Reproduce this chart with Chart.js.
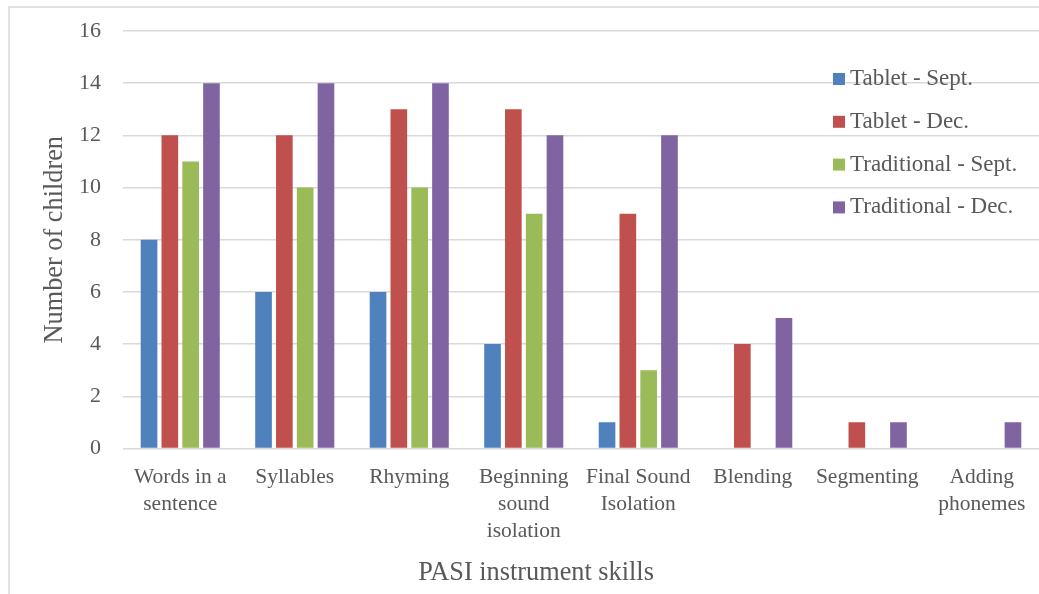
<!DOCTYPE html>
<html>
<head>
<meta charset="utf-8">
<script src="https://cdn.jsdelivr.net/npm/chart.js@4/dist/chart.umd.min.js"></script>
<style>
    html, body { margin: 0; padding: 0; background: #fff; overflow: hidden; }
    #wrap { position: relative; width: 1039px; height: 594px; }
</style>
</head>
<body>
<div id="wrap"><canvas id="chart" width="1039" height="594"></canvas></div>
<script>
// data
const skills = [
    ["Words in a", "sentence"],
    "Syllables",
    "Rhyming",
    ["Beginning", "sound", "isolation"],
    ["Final Sound", "Isolation"],
    "Blending",
    "Segmenting",
    ["Adding", "phonemes"]
]
const tabletSept = [8, 6, 6, 4, 1, 0, 0, 0]
const tabletDec = [12, 12, 13, 13, 9, 4, 1, 0]
const tradSept = [11, 10, 10, 9, 3, 0, 0, 0]
const tradDec = [14, 14, 14, 12, 12, 5, 1, 1]
const seriesNames = ["Tablet - Sept.", "Tablet - Dec.", "Traditional - Sept.", "Traditional - Dec."]
const yMin = 0
const yMax = 16
const yStep = 2

const colors = ["#4F81BD", "#C0504D", "#9BBB59", "#8064A2"]
const textColor = "#595959"
const gridColor = "#d9d9d9"

// frame around the whole chart (only left/top edges are visible)
const frame = {
    id: 'frame',
    beforeDraw(chart) {
        const ctx = chart.ctx
        ctx.save()
        ctx.strokeStyle = gridColor
        ctx.lineWidth = 1.5
        ctx.strokeRect(9, 7, 1200, 800)
        ctx.restore()
    }
}

// legend sits on top of the plot, gridlines run behind it
const insideLegend = {
    id: 'insideLegend',
    afterDraw(chart) {
        const ctx = chart.ctx
        ctx.save()
        ctx.font = '23px "Liberation Serif"'
        ctx.textBaseline = 'middle'
        ctx.textAlign = 'left'
        chart.data.datasets.forEach((ds, i) => {
            const y = 79 + i * 42.8
            ctx.fillStyle = ds.backgroundColor
            ctx.fillRect(833, y - 6, 12, 12)
            ctx.fillStyle = textColor
            ctx.fillText(ds.label, 850, y)
        })
        ctx.restore()
    }
}

window.onload = () => {
    const ctx = document.getElementById('chart')

    Chart.defaults.font.family = '"Liberation Serif", serif'
    Chart.defaults.color = textColor

    const series = [tabletSept, tabletDec, tradSept, tradDec]

    new Chart(ctx, {
        type: 'bar',
        data: {
            labels: skills,
            datasets: series.map((values, i) => ({
                label: seriesNames[i],
                data: values,
                backgroundColor: colors[i],
                borderWidth: 0,
                barPercentage: 0.8,
                categoryPercentage: 0.727
            }))
        },
        options: {
            responsive: false,
            animation: false,
            devicePixelRatio: 1,
            layout: {
                padding: { left: 33, top: 31, right: 0, bottom: 0 }
            },
            plugins: {
                legend: { display: false },
                tooltip: { enabled: false },
                title: {
                    display: true,
                    position: 'bottom',
                    text: 'PASI instrument skills',
                    color: textColor,
                    font: { size: 26.3, weight: 'normal', lineHeight: 1.2 },
                    padding: { top: 0, bottom: 5 }
                }
            },
            scales: {
                x: {
                    grid: { display: false },
                    border: { display: false },
                    ticks: {
                        color: textColor,
                        font: { size: 21.5, lineHeight: 1.256 },
                        padding: 7,
                        maxRotation: 0,
                        autoSkip: false
                    },
                    afterFit: (scale) => { scale.height = 109 }
                },
                y: {
                    min: yMin,
                    max: yMax,
                    ticks: {
                        stepSize: yStep,
                        color: textColor,
                        font: { size: 22 },
                        padding: 0
                    },
                    // invisible tick marks keep the labels 22px off the plot
                    grid: {
                        color: gridColor,
                        lineWidth: 1.5,
                        drawTicks: true,
                        tickLength: 22,
                        tickColor: 'rgba(0,0,0,0)'
                    },
                    border: { display: false },
                    title: {
                        display: true,
                        text: 'Number of children',
                        color: textColor,
                        font: { size: 26.3, lineHeight: 1.2 },
                        padding: { top: 6, bottom: 0 }
                    },
                    afterFit: (scale) => { scale.width = 90 }
                }
            }
        },
        plugins: [frame, insideLegend]
    })
}
</script>
</body>
</html>
